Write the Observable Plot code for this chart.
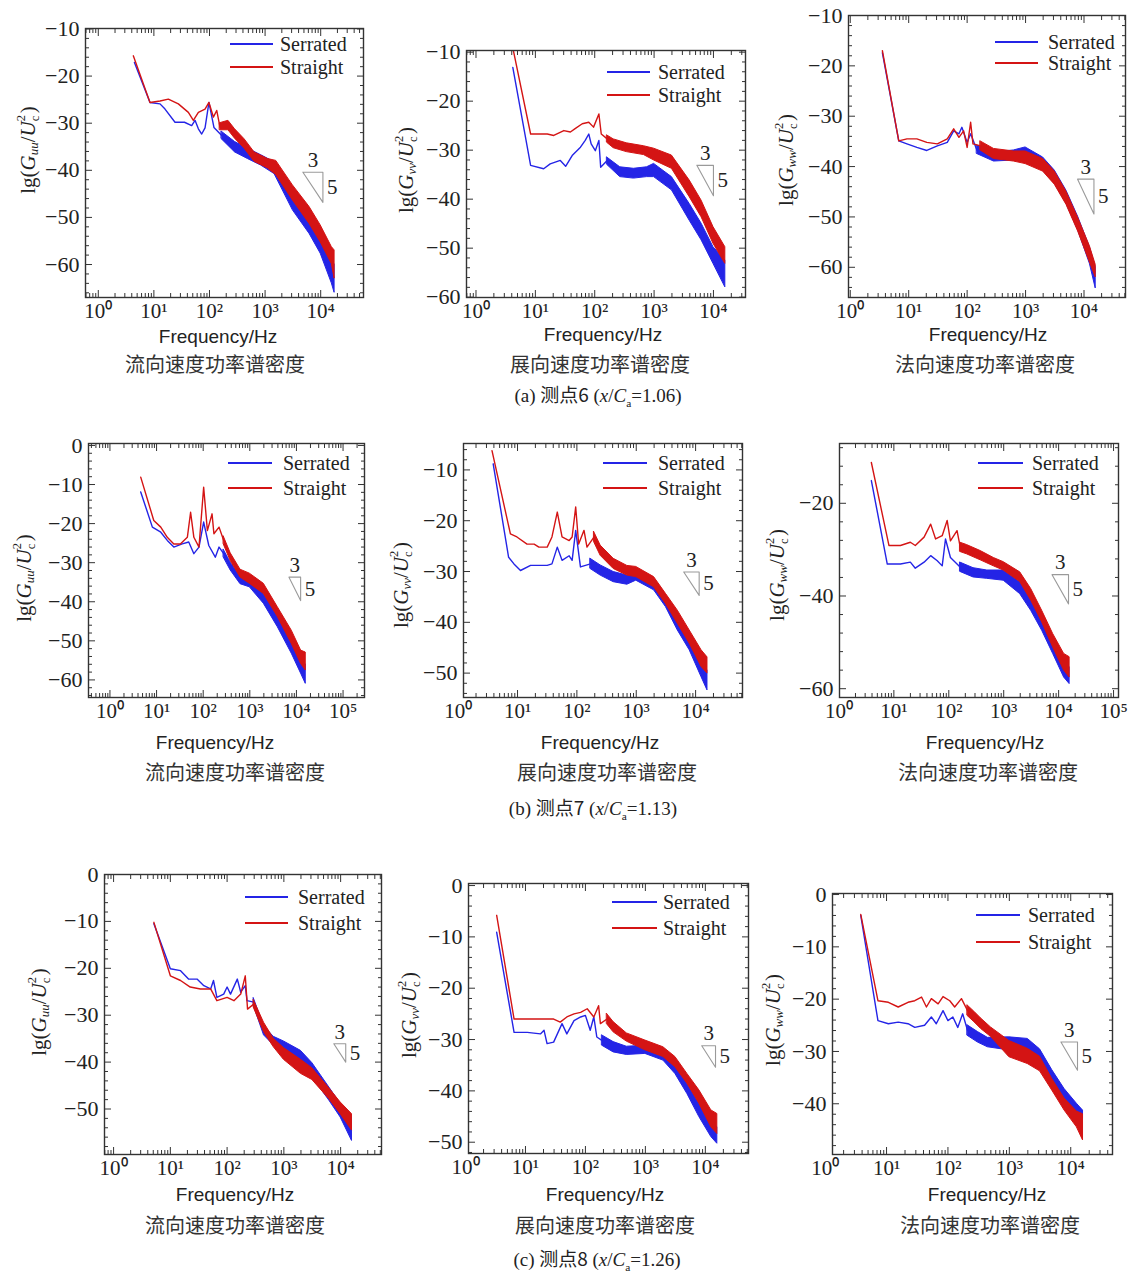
<!DOCTYPE html>
<html><head><meta charset="utf-8">
<script src="https://cdn.jsdelivr.net/npm/d3@7"></script>
<script src="https://cdn.jsdelivr.net/npm/@observablehq/plot@0.6"></script>
<style>
body{margin:0;background:#fff;}
#page{position:relative;width:1129px;height:1275px;overflow:hidden;background:#fff;font-family:"Liberation Serif","Noto Sans CJK SC",serif;color:#222;}
.abs{position:absolute;white-space:nowrap;line-height:1;}
.ctr{transform:translate(-50%,-50%);}
.ylab{transform:translate(-50%,-50%) rotate(-90deg);font-size:21px;}
.s{font-size:0.62em;vertical-align:-0.3em;}
.st{position:relative;display:inline-block;width:8px;height:21px;vertical-align:baseline;font-size:12.5px;}
.st span{position:absolute;left:0;line-height:1;}
.st .up{top:1px;}
.st .dn{top:15px;}
.freq{font-family:"Liberation Sans",Arial,sans-serif;font-size:19px;}
.sub{font-family:"Noto Sans CJK SC",sans-serif;font-size:20px;color:#333;}
.cap{font-size:19px;}
.cap .zh{font-family:"Noto Sans CJK SC",sans-serif;}
.leg{font-size:20px;transform:translateY(-50%);}
.legline{position:absolute;height:2px;}
.holder svg{max-width:none !important;height:auto;display:block;}
</style></head><body><div id="page"></div>
<script>
// ---------- data (frequency as lg f, value as lg(G/Uc^2)); bands = [lg f, low, high] of the noisy part ----------
// (a) 测点6
const a1SerratedLine = [[0.65,-17.1],[0.93,-25.6],[1.11,-25.9],[1.2,-27],[1.38,-29.8],[1.55,-29.8],[1.68,-30.5],[1.74,-29.4],[1.8,-31.2],[1.86,-32.3],[1.92,-31],[1.99,-25.6],[2.08,-30.9],[2.22,-32.6]];
const a1SerratedBand = [[2.22,-33.4,-31.8],[2.46,-36.2,-34],[2.69,-37.6,-35.4],[2.93,-39,-36.8],[3.17,-40.8,-38.3],[3.5,-48.5,-45],[3.8,-53.5,-50],[4.0,-57.7,-54.2],[4.2,-64,-59],[4.25,-66,-60]];
const a1StraightLine = [[0.63,-15.7],[0.93,-25.6],[1.11,-25.3],[1.26,-24.9],[1.44,-25.9],[1.62,-27.7],[1.71,-29.4],[1.8,-27.7],[1.92,-27],[1.99,-25.6],[2.07,-28.7],[2.13,-27.3],[2.19,-30.9]];
const a1StraightBand = [[2.19,-31.5,-30],[2.34,-31.5,-29.5],[2.46,-33.3,-31.3],[2.63,-35.4,-33.4],[2.81,-38.2,-36.2],[3.05,-39.6,-37.6],[3.2,-41,-38],[3.5,-46.4,-43.2],[3.8,-51.4,-47.8],[4.0,-55.3,-51.7],[4.2,-59.9,-56.3],[4.25,-63,-57]];

const a2SerratedLine = [[0.62,-13.1],[0.92,-33.1],[1.14,-33.8],[1.25,-32.8],[1.42,-32.1],[1.51,-33.3],[1.62,-31.1],[1.76,-29.4],[1.84,-28],[1.9,-26.7],[1.94,-28.7],[2.01,-30.1],[2.07,-28],[2.1,-33.5],[2.21,-32.1]];
const a2SerratedBand = [[2.21,-33,-31.5],[2.43,-35.5,-33.5],[2.66,-35.8,-33.8],[2.88,-35.5,-33.5],[3.0,-35.5,-32.8],[3.3,-38.2,-35.5],[3.6,-44.4,-41],[3.8,-48.4,-45],[4.0,-53.2,-49.8],[4.2,-58,-52.5]];
const a2StraightLine = [[0.63,-9.7],[0.92,-26.7],[1.2,-26.7],[1.31,-27],[1.48,-26],[1.59,-26.3],[1.67,-25.6],[1.79,-24.6],[1.9,-24.3],[1.98,-25.3],[2.07,-22.6],[2.11,-26.7],[2.21,-27.7]];
const a2StraightBand = [[2.21,-28.5,-27],[2.32,-29.6,-27.8],[2.54,-30.4,-28.6],[2.83,-31,-29.2],[3.0,-32.1,-29.7],[3.3,-33.8,-31.1],[3.6,-39.6,-36.2],[3.8,-43.7,-40.3],[4.0,-49.1,-45.7],[4.2,-53.2,-49.8]];

const a3SerratedLine = [[0.55,-17.4],[0.83,-34.9],[0.97,-35.5],[1.14,-36.2],[1.31,-36.8],[1.49,-35.9],[1.66,-35.2],[1.77,-32.9],[1.86,-33.5],[1.91,-32.2],[2.0,-35.2],[2.06,-33.5],[2.17,-36.8]];
const a3SerratedBand = [[2.17,-37.5,-35.8],[2.46,-39,-37.2],[2.8,-38.8,-36.8],[3.0,-39.2,-36.2],[3.3,-40.8,-38.2],[3.5,-43.4,-40.8],[3.7,-47.4,-44.8],[3.9,-52.7,-50],[4.1,-59.3,-56],[4.2,-64.2,-60]];
const a3StraightLine = [[0.55,-17],[0.83,-34.9],[0.97,-34.5],[1.14,-34.5],[1.31,-35.2],[1.49,-35.5],[1.66,-34.5],[1.77,-32.5],[1.86,-34.2],[1.94,-32.9],[2.0,-36.2],[2.06,-31.2],[2.1,-35.5],[2.23,-35.9]];
const a3StraightBand = [[2.23,-36.8,-35],[2.46,-38.5,-36.5],[2.8,-39,-37],[3.0,-39.5,-37],[3.3,-41,-38.5],[3.5,-43.6,-41],[3.7,-47.6,-45],[3.9,-52.9,-50.2],[4.1,-59,-55.8],[4.2,-62,-59.5]];

// (b) 测点7
const b1SerratedLine = [[0.66,-11.9],[0.91,-20.9],[1.09,-22.2],[1.23,-24.3],[1.37,-26],[1.55,-25.2],[1.69,-24.7],[1.8,-27.7],[1.91,-26],[2.01,-19.6],[2.12,-25.6],[2.26,-28.6],[2.34,-26],[2.44,-27.7]];
const b1SerratedBand = [[2.44,-28.7,-26.7],[2.59,-32,-30],[2.8,-35.5,-33.6],[3.0,-36.3,-34.1],[3.3,-40.5,-38],[3.6,-46.5,-43.5],[3.9,-53.3,-49.9],[4.1,-58.4,-55],[4.2,-61,-56]];
const b1StraightLine = [[0.66,-8.1],[0.94,-19.2],[1.09,-20.9],[1.23,-23.5],[1.37,-25.2],[1.51,-25.2],[1.66,-23.5],[1.73,-17.1],[1.8,-23.5],[1.91,-26],[2.01,-10.7],[2.09,-21.8],[2.19,-17.5],[2.23,-22.6],[2.34,-20.9],[2.44,-24.3]];
const b1StraightBand = [[2.44,-25.3,-23.3],[2.59,-29.6,-27.6],[2.8,-33.8,-31.8],[3.0,-35.4,-32.8],[3.3,-38,-35.4],[3.6,-43.9,-41.4],[3.9,-50.8,-47.4],[4.1,-55.9,-52.5],[4.2,-57.6,-53]];

const b2SerratedLine = [[0.59,-8.8],[0.85,-27.2],[0.94,-28.5],[1.05,-29.8],[1.22,-28.8],[1.5,-28.8],[1.58,-28.5],[1.67,-25.2],[1.75,-27.8],[1.87,-26.9],[1.92,-27.8],[1.98,-21.9],[2.06,-29.1],[2.23,-28.5]];
const b2SerratedBand = [[2.23,-29.5,-27.5],[2.4,-30.8,-28.8],[2.62,-32.1,-30.1],[2.85,-32.6,-30.8],[3.0,-31.8,-29.8],[3.3,-33.7,-31.8],[3.5,-37,-35],[3.7,-41.6,-39],[3.9,-45.5,-42.9],[4.1,-50.8,-47.5],[4.2,-53.4,-49.5]];
const b2StraightLine = [[0.57,-6.2],[0.88,-22.6],[0.99,-23.2],[1.16,-24.6],[1.28,-24.6],[1.36,-25.2],[1.5,-25.2],[1.58,-23.2],[1.67,-18.3],[1.75,-23.2],[1.87,-23.9],[1.92,-23.2],[1.98,-17.3],[2.03,-24.6],[2.12,-21.9],[2.17,-25.2],[2.29,-23.2]];
const b2StraightBand = [[2.29,-24.2,-22.2],[2.4,-26.9,-24.9],[2.62,-29.5,-27.5],[2.85,-30.8,-28.9],[3.0,-31.1,-29.1],[3.3,-33.1,-31.1],[3.5,-36.4,-34.4],[3.7,-40.3,-37.7],[3.9,-44.2,-41.6],[4.1,-48.8,-45.5],[4.2,-50.1,-46.9]];

const b3SerratedLine = [[0.59,-15.1],[0.88,-33.1],[1.12,-33.1],[1.3,-32.7],[1.39,-34],[1.55,-32.7],[1.67,-31.3],[1.79,-32.4],[1.88,-33.5],[1.94,-27.7],[2.03,-31.7],[2.21,-33.8]];
const b3SerratedBand = [[2.21,-34.8,-32.8],[2.45,-36,-34],[2.7,-36.3,-34.5],[3.0,-36.7,-34.5],[3.3,-39.6,-37],[3.5,-43.2,-40.6],[3.7,-47.5,-45],[3.9,-52.5,-49.6],[4.1,-57.6,-54],[4.2,-59,-55.4]];
const b3StraightLine = [[0.59,-11.2],[0.91,-29.1],[1.12,-29.1],[1.3,-28.4],[1.39,-29.1],[1.55,-27.3],[1.67,-24.5],[1.76,-27.7],[1.88,-27],[1.97,-23.7],[2.03,-28.1],[2.15,-25.9],[2.21,-29.5]];
const b3StraightBand = [[2.21,-30.5,-28.5],[2.33,-31,-29],[2.58,-32.3,-30.3],[2.82,-33.6,-31.8],[3.0,-34.5,-32.7],[3.3,-37,-34.9],[3.5,-41,-38.5],[3.7,-45.7,-43.2],[3.9,-51.1,-48.2],[4.1,-56.1,-52.5],[4.2,-57.6,-53.2]];

// (c) 测点8
const c1SerratedLine = [[0.71,-10.5],[1.0,-20.1],[1.18,-20.5],[1.32,-22.3],[1.47,-22.3],[1.59,-23.7],[1.71,-24.4],[1.76,-22.6],[1.82,-26.2],[1.94,-25.5],[2.0,-24],[2.06,-25.5],[2.18,-22.3],[2.24,-25.1],[2.32,-23.7],[2.35,-26.9],[2.47,-27.2]];
const c1SerratedBand = [[2.47,-28,-26.4],[2.65,-34.3,-32.3],[2.82,-36.4,-34.6],[3.0,-38.3,-35.6],[3.3,-41.1,-37.6],[3.5,-43.2,-40.2],[3.8,-48.2,-45.4],[4.0,-51.8,-48.9],[4.2,-56.8,-51.8]];
const c1StraightLine = [[0.71,-10.2],[1.0,-21.6],[1.18,-22.6],[1.35,-24],[1.53,-24.4],[1.71,-24.4],[1.82,-26.9],[2.0,-26.2],[2.12,-26.9],[2.24,-25.5],[2.32,-21.6],[2.36,-28.7],[2.47,-27.6]];
const c1StraightBand = [[2.47,-28.4,-26.8],[2.65,-33.6,-31.6],[2.82,-36.8,-35],[3.0,-39.5,-37],[3.3,-42.5,-39.5],[3.5,-43.8,-41.3],[3.8,-47.9,-45.6],[4.0,-51.1,-48.6],[4.2,-54.6,-51.1]];

const c2SerratedLine = [[0.52,-9.1],[0.81,-28.6],[1.03,-28.6],[1.25,-28.9],[1.31,-28.2],[1.36,-30.8],[1.47,-30.5],[1.61,-26.9],[1.69,-28.9],[1.81,-26.3],[1.92,-25.6],[2.0,-25.3],[2.08,-28.2],[2.14,-25.6],[2.19,-29.5],[2.28,-30.2]];
const c2SerratedBand = [[2.28,-31.2,-29.2],[2.47,-32.5,-30.5],[2.69,-33,-31.4],[3.0,-32.8,-31.2],[3.3,-34.1,-32.1],[3.5,-36.7,-34.7],[3.7,-40.6,-38.6],[3.9,-45.1,-42.5],[4.1,-49,-45.8],[4.2,-50.3,-47.1]];
const c2StraightLine = [[0.52,-5.8],[0.81,-26],[1.25,-26],[1.47,-26],[1.58,-26.6],[1.69,-25.6],[1.81,-25],[1.92,-24.7],[2.03,-24],[2.14,-25.6],[2.22,-23.4],[2.25,-26.9],[2.36,-26]];
const c2StraightBand = [[2.36,-27,-25],[2.47,-28.6,-26.6],[2.69,-30.4,-28.8],[3.0,-32.1,-30.2],[3.3,-33.4,-31.5],[3.5,-35.4,-33.4],[3.7,-38.6,-36.7],[3.9,-42.5,-39.9],[4.1,-47.1,-43.8],[4.2,-48.4,-44.5]];

const c3SerratedLine = [[0.58,-4.0],[0.86,-24.1],[1.03,-24.7],[1.19,-24.4],[1.35,-24.7],[1.46,-25.4],[1.62,-25],[1.73,-23.4],[1.81,-24.7],[1.92,-22.2],[2.0,-24.1],[2.08,-23.4],[2.16,-25.4],[2.24,-22.8],[2.32,-26]];
const c3SerratedBand = [[2.32,-27,-25],[2.49,-28.3,-26.3],[2.65,-29.2,-27.4],[3.0,-29.8,-27.3],[3.3,-31.1,-27.6],[3.5,-32.4,-29.6],[3.7,-36.2,-33.6],[3.9,-39.4,-37.2],[4.1,-41.8,-40],[4.2,-42.9,-41.3]];
const c3StraightLine = [[0.58,-3.8],[0.86,-20.3],[1.03,-20.6],[1.19,-21.5],[1.35,-20.6],[1.46,-20.3],[1.57,-19.6],[1.65,-21.5],[1.73,-19.9],[1.84,-20.9],[1.92,-19.5],[2.03,-20.3],[2.11,-21.5],[2.22,-19.9],[2.32,-22.2]];
const c3StraightBand = [[2.32,-23.2,-21.2],[2.43,-24.4,-22.4],[2.54,-25.7,-23.7],[2.7,-27.2,-25.4],[3.0,-31.1,-28],[3.3,-32.4,-29.5],[3.5,-33.8,-31],[3.7,-37.5,-35.3],[3.9,-41.3,-39],[4.1,-44.5,-41.5],[4.2,-47,-42]];

// slope triangles: [lg f left, lg f right, top value, bottom value]
const a1Triangle = [3.68, 4.04, -40.4, -46.8];
const a2Triangle = [3.72, 4.0, -33.1, -39.3];
const a3Triangle = [3.89, 4.17, -42.5, -49.4];
const b1Triangle = [3.84, 4.09, -33.7, -39.7];
const b2Triangle = [3.80, 4.06, -30.1, -34.7];
const b3Triangle = [3.88, 4.18, -35.4, -41.7];
const c1Triangle = [3.88, 4.09, -36.1, -40.0];
const c2Triangle = [3.94, 4.17, -31.2, -35.4];
const c3Triangle = [3.84, 4.11, -28.2, -33.6];

// tick values
const yTicksA = [-10,-20,-30,-40,-50,-60];
const yTicksB1 = [0,-10,-20,-30,-40,-50,-60];
const yTicksB2 = [-10,-20,-30,-40,-50];
const yTicksB3 = [-20,-40,-60];
const yTicksC1 = [0,-10,-20,-30,-40,-50];
const yTicksC2 = [0,-10,-20,-30,-40,-50];
const yTicksC3 = [0,-10,-20,-30,-40];
const xTicks4 = [0,1,2,3,4];
const xTicks5 = [0,1,2,3,4,5];

const seriesNames = ["Serrated","Straight"];
const componentNames = {uu:"流向速度功率谱密度", vv:"展向速度功率谱密度", ww:"法向速度功率谱密度"};
const captions = [
  {tag:"(a)", point:"测点6", ratio:"1.06"},
  {tag:"(b)", point:"测点7", ratio:"1.13"},
  {tag:"(c)", point:"测点8", ratio:"1.26"}
];

// ---------- layout ----------
const BLUE = "#2424e6", RED = "#d41414";
const panels = [
 {comp:"uu", box:[85,28,363,297], xDom:[-0.23,4.77], yDom:[-67,-9.9], yTicks:yTicksA, yMinor:2, xTicks:xTicks4,
  ser:[a1SerratedLine,a1SerratedBand], str:[a1StraightLine,a1StraightBand], tri:a1Triangle,
  leg:[230,273,44,67,280], ylab:[27,150], freq:[218,336], sub:[215,364]},
 {comp:"vv", box:[466,50,745,297], xDom:[-0.16,4.54], yDom:[-60.07,-9.66], yTicks:yTicksA, yMinor:2, xTicks:xTicks4,
  ser:[a2SerratedLine,a2SerratedBand], str:[a2StraightLine,a2StraightBand], tri:a2Triangle,
  leg:[607,650,72,95,658], ylab:[405,170], freq:[603,334], sub:[600,364]},
 {comp:"ww", box:[848,15,1125,297], xDom:[-0.03,4.71], yDom:[-66,-10], yTicks:yTicksA, yMinor:2, xTicks:xTicks4,
  ser:[a3SerratedLine,a3SerratedBand], str:[a3StraightLine,a3StraightBand], tri:a3Triangle,
  leg:[995,1038,42,63,1048], ylab:[785,160], freq:[988,334], sub:[985,364]},
 {comp:"uu", box:[88,443,364,697], xDom:[-0.46,5.46], yDom:[-64.5,0.5], yTicks:yTicksB1, yMinor:2, xTicks:xTicks5,
  ser:[b1SerratedLine,b1SerratedBand], str:[b1StraightLine,b1StraightBand], tri:b1Triangle,
  leg:[228,272,463,488,283], ylab:[23,578], freq:[215,742], sub:[235,772]},
 {comp:"vv", box:[463,443,742,697], xDom:[0.09,4.79], yDom:[-54.8,-4.8], yTicks:yTicksB2, yMinor:2, xTicks:xTicks4,
  ser:[b2SerratedLine,b2SerratedBand], str:[b2StraightLine,b2StraightBand], tri:b2Triangle,
  leg:[603,647,463,488,658], ylab:[400,585], freq:[600,742], sub:[607,772]},
 {comp:"ww", box:[839,443,1118,697], xDom:[0.01,5.09], yDom:[-61.9,-7.1], yTicks:yTicksB3, yMinor:4, xTicks:xTicks5,
  ser:[b3SerratedLine,b3SerratedBand], str:[b3StraightLine,b3StraightBand], tri:b3Triangle,
  leg:[978,1023,463,488,1032], ylab:[776,575], freq:[985,742], sub:[988,772]},
 {comp:"uu", box:[104,874,381,1154], xDom:[-0.16,4.72], yDom:[-59.7,0], yTicks:yTicksC1, yMinor:2, xTicks:xTicks4,
  ser:[c1SerratedLine,c1SerratedBand], str:[c1StraightLine,c1StraightBand], tri:c1Triangle,
  leg:[245,288,897,923,298], ylab:[38,1012], freq:[235,1194], sub:[235,1225]},
 {comp:"vv", box:[468,883,748,1153], xDom:[0.05,4.72], yDom:[-52.2,0.4], yTicks:yTicksC2, yMinor:2, xTicks:xTicks4,
  ser:[c2SerratedLine,c2SerratedBand], str:[c2StraightLine,c2StraightBand], tri:c2Triangle,
  leg:[612,657,902,928,663], ylab:[408,1015], freq:[605,1194], sub:[605,1225]},
 {comp:"ww", box:[832,893,1112,1154], xDom:[0.12,4.68], yDom:[-49.7,0.2], yTicks:yTicksC3, yMinor:2, xTicks:xTicks4,
  ser:[c3SerratedLine,c3SerratedBand], str:[c3StraightLine,c3StraightBand], tri:c3Triangle,
  leg:[976,1020,915,942,1028], ylab:[772,1020], freq:[987,1194], sub:[990,1225]}
];
const captionPos = [[598,397],[593,810],[597,1261]];

const SUP = ["⁰","¹","²","³","⁴","⁵"];
const toLine = arr => arr.map(([lf, v]) => ({f: 10 ** lf, v}));
const toBand = arr => arr.map(([lf, lo, hi]) => ({f: 10 ** lf, lo, hi}));
const page = document.getElementById("page");

function addDiv(cls, x, y, html) {
  const d = document.createElement("div");
  d.className = "abs " + cls;
  d.style.left = x + "px"; d.style.top = y + "px";
  d.innerHTML = html;
  page.appendChild(d);
  return d;
}

function makePanel(p) {
  const ml = 75, mr = 30, mt = 25, mb = 40;
  const [L, T, R, B] = p.box;
  const W = R - L, H = B - T;
  const [tx0, tx1, tyTop, tyBot] = p.tri;
  const triRows = [{f:10**tx0, v:tyTop},{f:10**tx1, v:tyTop},{f:10**tx1, v:tyBot},{f:10**tx0, v:tyTop}];
  const inX = e => e >= p.xDom[0] - 1e-9 && e <= p.xDom[1] + 1e-9;
  const xMajor = p.xTicks.map(e => 10 ** e);
  const xMajorIn = p.xTicks.filter(inX).map(e => 10 ** e);
  const xMinor = [];
  for (let e = Math.floor(p.xDom[0]); e <= Math.ceil(p.xDom[1]); e++)
    for (let k = 2; k <= 9; k++) { const lv = Math.log10(k) + e; if (inX(lv)) xMinor.push(10 ** lv); }
  const yMinor = [];
  for (let v = Math.ceil(p.yDom[0] / p.yMinor) * p.yMinor; v <= p.yDom[1]; v += p.yMinor)
    if (!p.yTicks.includes(v)) yMinor.push(v);
  const yIn = p.yTicks.filter(v => v >= p.yDom[0] - 1e-9 && v <= p.yDom[1] + 1e-9);
  const blank = () => "";
  const tk = {tickFormat: blank, label: null, stroke: "#333"};
  const serBand = toBand(p.ser[1]), strBand = toBand(p.str[1]);
  const svgW = W + ml + mr, svgH = H + mt + mb;
  const svg = Plot.plot({
    width: svgW, height: svgH,
    marginLeft: ml, marginRight: mr, marginTop: mt, marginBottom: mb,
    style: {background: "transparent", fontFamily: "'Liberation Serif', serif", fontSize: "21px", color: "#222", overflow: "visible", maxWidth: "none"},
    x: {type: "log", domain: [10 ** p.xDom[0], 10 ** p.xDom[1]]},
    y: {domain: p.yDom},
    marks: [
      Plot.areaY(serBand, {x: "f", y1: "lo", y2: "hi", fill: BLUE, stroke: BLUE, strokeWidth: 1, clip: true}),
      Plot.line(toLine(p.ser[0]), {x: "f", y: "v", stroke: BLUE, strokeWidth: 1.4, clip: true}),
      Plot.areaY(strBand, {x: "f", y1: "lo", y2: "hi", fill: RED, stroke: RED, strokeWidth: 1, clip: true}),
      Plot.line(toLine(p.str[0]), {x: "f", y: "v", stroke: RED, strokeWidth: 1.4, clip: true}),
      Plot.line(triRows, {x: "f", y: "v", stroke: "#9a9a9a", strokeWidth: 1.1}),
      Plot.text([{f: 10 ** ((tx0 + tx1) / 2), v: tyTop}], {x: "f", y: "v", text: () => "3", dy: -12, fontSize: 21, fill: "#222"}),
      Plot.text([{f: 10 ** tx1, v: (tyTop + tyBot) / 2}], {x: "f", y: "v", text: () => "5", dx: 4, textAnchor: "start", fontSize: 21, fill: "#222"}),
      Plot.frame({stroke: "#333", strokeWidth: 1.4}),
      Plot.axisY(yIn, {anchor: "left", tickSize: 0, tickPadding: 6, label: null, fontSize: 22}),
      Plot.axisY(yIn, {anchor: "left", tickSize: -7, ...tk}),
      Plot.axisY(yMinor, {anchor: "left", tickSize: -4, ...tk}),
      Plot.axisY(yIn, {anchor: "right", tickSize: -7, ...tk}),
      Plot.axisY(yMinor, {anchor: "right", tickSize: -4, ...tk}),
      Plot.axisX(xMajor, {anchor: "bottom", tickSize: 0, tickPadding: 6, label: null, fontSize: 21,
        tickFormat: d => "10" + SUP[Math.round(Math.log10(d))]}),
      Plot.axisX(xMajorIn, {anchor: "bottom", tickSize: -7, ...tk}),
      Plot.axisX(xMinor, {anchor: "bottom", tickSize: -4, ...tk}),
      Plot.axisX(xMajorIn, {anchor: "top", tickSize: -7, ...tk}),
      Plot.axisX(xMinor, {anchor: "top", tickSize: -4, ...tk})
    ]
  });
  svg.style.maxWidth = "none";
  svg.style.width = svgW + "px";
  svg.style.height = svgH + "px";
  const holder = document.createElement("div");
  holder.className = "abs holder";
  holder.style.left = (L - ml) + "px";
  holder.style.top = (T - mt) + "px";
  holder.style.width = svgW + "px";
  holder.style.height = svgH + "px";
  holder.appendChild(svg);
  page.appendChild(holder);

  // legend
  const [x1, x2, yS, yT, tx] = p.leg;
  [[yS, BLUE, seriesNames[0]], [yT, RED, seriesNames[1]]].forEach(([yy, col, name]) => {
    const ln = document.createElement("div");
    ln.className = "legline";
    ln.style.left = x1 + "px"; ln.style.top = (yy - 1) + "px";
    ln.style.width = (x2 - x1) + "px"; ln.style.background = col;
    page.appendChild(ln);
    addDiv("leg", tx, yy, name);
  });
  // axis titles and subtitle
  addDiv("ylab", p.ylab[0], p.ylab[1],
    `lg(<i>G</i><span class="s"><i>${p.comp}</i></span>/<i>U</i><span class="st"><span class="up">2</span><span class="dn">c</span></span>)`);
  addDiv("freq ctr", p.freq[0], p.freq[1], "Frequency/Hz");
  addDiv("sub ctr", p.sub[0], p.sub[1], componentNames[p.comp]);
}

panels.forEach(makePanel);
captions.forEach((c, i) => {
  addDiv("cap ctr", captionPos[i][0], captionPos[i][1],
    `${c.tag} <span class="zh">${c.point}</span> (<i>x</i>/<i>C</i><sub style="font-size:0.6em">a</sub>=${c.ratio})`);
});
</script></body></html>
